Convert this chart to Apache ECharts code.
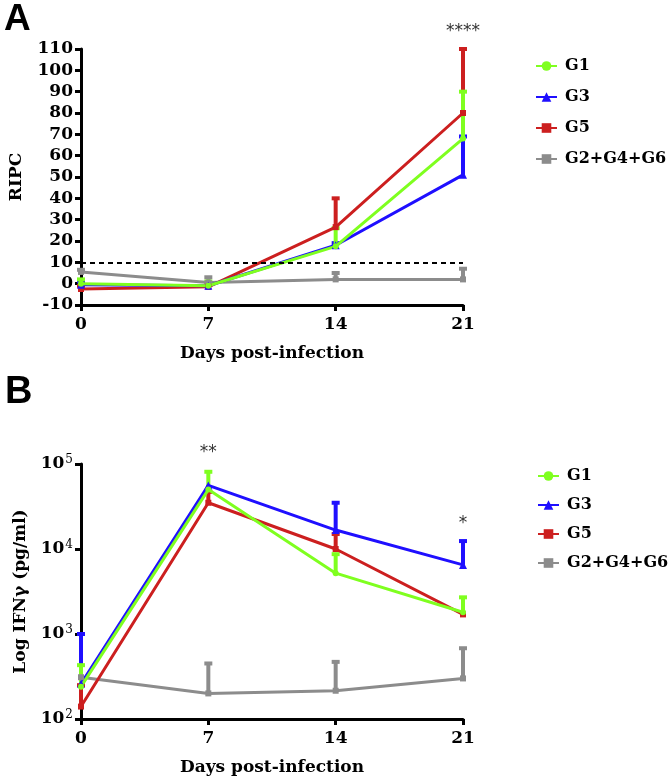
<!DOCTYPE html>
<html>
<head>
<meta charset="utf-8">
<script src="https://cdn.jsdelivr.net/npm/echarts@6/dist/echarts.min.js"></script>
<style>
  html, body { margin: 0; padding: 0; background: #fff; }
  #chart { width: 671px; height: 781px; }
</style>
</head>
<body>
<div id="chart"></div>
<script>
// x values shared by both panels
const days = [0, 7, 14, 21];
const groups = ['G1', 'G3', 'G5', 'G2+G4+G6'];
const colors = ['#7fff1f', '#1f0fff', '#cc1f1f', '#8c8c8c'];
const symbols = ['circle', 'triangle', 'rect', 'rect'];

// panel A: RIPC means and upper error-bar ends (null = no bar)
const ripcG1 = [0, -1, 17.5, 68];
const ripcG1Up = [2, 1, 26, 90];
const ripcG3 = [-0.5, -1, 18, 51];
const ripcG3Up = [1, null, 19, 69];
const ripcG5 = [-2.5, -1.5, 26.5, 80];
const ripcG5Up = [-1, -0.5, 40, 110];
const ripcGrey = [5.5, 0.5, 2, 2];
const ripcGreyUp = [6.5, 3, 5, 7];
const ripcCutoff = 10;

// panel B: IFNγ means and upper error-bar ends
const ifnG1 = [240, 50000, 5200, 1800];
const ifnG1Up = [430, 81000, 8700, 2700];
const ifnG3 = [260, 56000, 16700, 6500];
const ifnG3Up = [1000, null, 35000, 12400];
const ifnG5 = [140, 35000, 10000, 1700];
const ifnG5Up = [250, 47000, 15000, null];
const ifnGrey = [310, 200, 215, 300];
const ifnGreyUp = [null, 450, 470, 680];

// significance marks [panel, day, value, text]
const stars = [
  [0, 21, 118, '****'],
  [1, 7, 135000, '**'],
  [1, 21, 20000, '*']
];

const serif = 'DejaVu Serif';
const chart = echarts.init(document.getElementById('chart'));

const panelA = [ripcG1, ripcG3, ripcG5, ripcGrey];
const panelAUp = [ripcG1Up, ripcG3Up, ripcG5Up, ripcGreyUp];
const panelB = [ifnG1, ifnG3, ifnG5, ifnGrey];
const panelBUp = [ifnG1Up, ifnG3Up, ifnG5Up, ifnGreyUp];

function errBars(color) {
  return function (params, api) {
    const p0 = api.coord([api.value(0), api.value(1)]);
    const p1 = api.coord([api.value(0), api.value(2)]);
    return {
      type: 'group',
      children: [
        { type: 'line', shape: { x1: p0[0], y1: p0[1], x2: p1[0], y2: p1[1] }, style: { stroke: color, lineWidth: 4 } },
        { type: 'line', shape: { x1: p1[0] - 4, y1: p1[1], x2: p1[0] + 4, y2: p1[1] }, style: { stroke: color, lineWidth: 4 } }
      ]
    };
  };
}

const series = [];
// draw grey first, green last (on top)
[3, 2, 1, 0].forEach(g => {
  [[panelA, panelAUp], [panelB, panelBUp]].forEach((pair, p) => {
    const means = pair[0][g], ups = pair[1][g];
    const bars = [];
    days.forEach((d, i) => { if (ups[i] != null) bars.push([d, means[i], ups[i]]); });
    series.push({
      type: 'custom',
      name: 'err' + p + g,
      xAxisIndex: p, yAxisIndex: p,
      renderItem: errBars(colors[g]),
      encode: { x: 0, y: [1, 2] },
      data: bars,
      clip: false,
      silent: true
    });
    const s = {
      type: 'line',
      name: groups[g],
      xAxisIndex: p, yAxisIndex: p,
      data: days.map((d, i) => [d, means[i]]),
      symbol: symbols[g],
      symbolSize: g === 1 ? 8 : 6,
      color: colors[g],
      lineStyle: { width: 3, color: colors[g] },
      itemStyle: { color: colors[g] },
      z: 3,
      animation: false
    };
    if (p === 0 && g === 3) {
      s.markLine = {
        silent: true,
        symbol: 'none',
        label: { show: false },
        lineStyle: { type: [5, 4], color: '#000', width: 2 },
        data: [{ yAxis: ripcCutoff }]
      };
    }
    series.push(s);
  });
});

const axisLine = { show: true, onZero: false, lineStyle: { color: '#000', width: 3 } };
const axisTick = { show: true, length: 6, lineStyle: { color: '#000', width: 3 } };
const tickFont = { fontFamily: serif, fontWeight: 'bold', fontSize: 17, color: '#000' };
const nameFont = { fontFamily: serif, fontWeight: 'bold', fontSize: 17, color: '#000' };

const xAxisBase = {
  type: 'value', min: 0, max: 21, interval: 7,
  axisLine: axisLine, axisTick: axisTick,
  axisLabel: Object.assign({ margin: 11 }, tickFont),
  splitLine: { show: false },
  name: 'Days post-infection', nameLocation: 'middle', nameGap: 40,
  nameTextStyle: nameFont
};

const legendBase = {
  orient: 'vertical',
  data: groups,
  itemWidth: 21, itemHeight: 12,
  textStyle: { fontFamily: serif, fontWeight: 'bold', fontSize: 16, color: '#000', lineHeight: 18, padding: [0, 0, 0, 3] },
  selectedMode: false
};

chart.setOption({
  animation: false,
  grid: [
    { left: 81, top: 49, width: 382, height: 256 },
    { left: 81, top: 464, width: 382, height: 255 }
  ],
  xAxis: [
    Object.assign({ gridIndex: 0 }, xAxisBase),
    Object.assign({ gridIndex: 1 }, xAxisBase)
  ],
  yAxis: [
    {
      gridIndex: 0, type: 'value', min: -10, max: 110, interval: 10,
      axisLine: axisLine, axisTick: axisTick,
      axisLabel: Object.assign({ margin: 8 }, tickFont),
      splitLine: { show: false },
      name: 'RIPC', nameLocation: 'middle', nameGap: 56, nameRotate: 90,
      nameTextStyle: nameFont
    },
    {
      gridIndex: 1, type: 'log', logBase: 10, min: 100, max: 100000,
      axisLine: axisLine, axisTick: axisTick,
      minorTick: { show: false },
      axisLabel: {
        margin: 8,
        formatter: v => '{b|10}{s|' + Math.round(Math.log10(v)) + '}',
        rich: {
          b: tickFont,
          s: { fontFamily: serif, fontSize: 12, color: '#000', padding: [0, 0, 9, 1] }
        }
      },
      splitLine: { show: false },
      name: 'Log IFNγ (pg/ml)', nameLocation: 'middle', nameGap: 52, nameRotate: 90,
      nameTextStyle: nameFont
    }
  ],
  legend: [
    Object.assign({ left: 530, top: 52, itemGap: 13 }, legendBase),
    Object.assign({ left: 532, top: 462, itemGap: 11 }, legendBase)
  ],
  series: series
});

// panel letters and significance stars
const graphics = [
  { type: 'text', left: 4, top: 1, style: { text: 'A', font: 'bold 37px "Liberation Sans"', fill: '#000' } },
  { type: 'text', left: 5, top: 374, style: { text: 'B', font: 'bold 38px "Liberation Sans"', fill: '#000' } }
];
stars.forEach(s => {
  const pt = chart.convertToPixel({ gridIndex: s[0] }, [s[1], s[2]]);
  graphics.push({
    type: 'text', x: pt[0], y: pt[1],
    style: { text: s[3], font: '17px "DejaVu Sans"', fill: '#333', align: 'center', verticalAlign: 'middle' }
  });
});
chart.setOption({ graphic: graphics });
</script>
</body>
</html>
